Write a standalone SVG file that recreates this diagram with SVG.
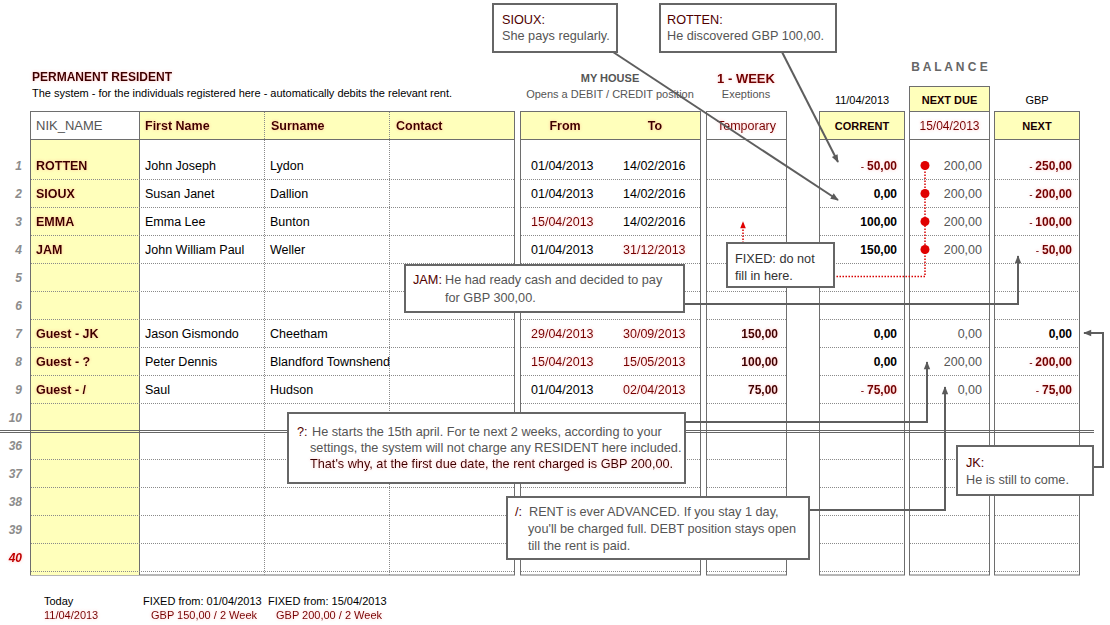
<svg xmlns="http://www.w3.org/2000/svg" width="1110" height="625" viewBox="0 0 1110 625">
<defs>
<filter id="glow" x="-20%" y="-60%" width="140%" height="220%">
<feGaussianBlur in="SourceAlpha" stdDeviation="1.6" result="b"/>
<feFlood flood-color="#ff5050" flood-opacity="0.35"/>
<feComposite in2="b" operator="in" result="g"/>
<feMerge><feMergeNode in="g"/><feMergeNode in="SourceGraphic"/></feMerge>
</filter>
<marker id="ah" viewBox="0 0 10 10" refX="9" refY="5" markerWidth="9" markerHeight="8" markerUnits="userSpaceOnUse" orient="auto"><path d="M0,1 L10,5 L0,9 z" fill="#5a5a5a"/></marker>
<marker id="ahr" viewBox="0 0 10 10" refX="9" refY="5" markerWidth="8" markerHeight="7" markerUnits="userSpaceOnUse" orient="auto"><path d="M0,1 L10,5 L0,9 z" fill="#e00000"/></marker>
<style>
text{font-family:"Liberation Sans",Arial,sans-serif}
.n{font-size:12.5px;fill:#000}
.nb{font-size:12.5px;font-weight:bold;fill:#3a0000;filter:url(#glow)}
.hb{font-size:12px;font-weight:bold;fill:#3a0000;filter:url(#glow)}
.hc{font-size:11px;font-weight:bold;fill:#1a0000;text-anchor:middle}
.rdd{font-size:12.5px;fill:#760000;filter:url(#glow)}
.v{font-size:12px;font-weight:bold;fill:#000;text-anchor:end}
.vm{font-size:12px;font-weight:bold;fill:#3a0000;text-anchor:end;filter:url(#glow)}
.vr{font-size:12px;font-weight:bold;fill:#700000;text-anchor:end;filter:url(#glow)}
.vg{font-size:12.5px;fill:#555;text-anchor:end}
.mi{font-size:10px;font-weight:normal}
.rn{font-size:12px;font-style:italic;font-weight:bold;fill:#8c8c8c;text-anchor:end}
.s{font-size:11px;fill:#000}
.sg{font-size:11px;fill:#555}
.sr{font-size:11px;fill:#760000;filter:url(#glow)}
.ct{font-size:12.7px;fill:#555}
.ck{font-size:12.7px;fill:#500000}
.panel{fill:#fff;stroke:#6e6e6e;stroke-width:1}
.sl{stroke:#6e6e6e;stroke-width:1;fill:none}
.dot{stroke:#8a8a8a;stroke-width:1;stroke-dasharray:1 1;fill:none}
.yl{fill:#ffffbb}
.box{fill:#fff;stroke:#666;stroke-width:2}
.con{fill:none;stroke:#5e5e5e;stroke-width:2}
.rdl{fill:none;stroke:#d80000;stroke-width:1.5;stroke-dasharray:1.5 1.5}
</style>
</defs>
<rect width="1110" height="625" fill="#fff"/>

<g id="titles">
<text x="32" y="81" class="hb">PERMANENT RESIDENT</text>
<text x="32" y="97" class="s" textLength="420">The system - for the individuals registered here - automatically debits the relevant rent.</text>
<text x="610" y="82" class="hc" style="fill:#555">MY HOUSE</text>
<text x="610" y="98" class="sg" text-anchor="middle">Opens a DEBIT / CREDIT position</text>
<text x="746" y="83" font-size="13" font-weight="bold" fill="#700000" text-anchor="middle" filter="url(#glow)">1 - WEEK</text>
<text x="746" y="98" class="sg" text-anchor="middle">Exeptions</text>
<text x="949.5" y="71" font-size="12" font-weight="bold" fill="#666" text-anchor="middle">B A L A N C E</text>
<text x="862" y="103.5" class="s" text-anchor="middle">11/04/2013</text>
<text x="1037" y="103.5" class="s" text-anchor="middle">GBP</text>
</g>

<g id="panel-residents">
<rect x="30.5" y="111.5" width="484" height="463.5" class="panel"/>
<rect x="139" y="112" width="375" height="27" class="yl"/>
<rect x="31" y="140" width="108" height="435" class="yl"/>
<path d="M30,139.5 H514 M139.5,111 V575" class="sl"/>
<path d="M264.5,112 V575 M389.5,112 V575" class="dot"/>
<path d="M31,179.5 H514 M31,207.5 H514 M31,235.5 H514 M31,263.5 H514 M31,291.5 H514 M31,319.5 H514 M31,347.5 H514 M31,375.5 H514 M31,403.5 H514 M31,459.5 H514 M31,487.5 H514 M31,515.5 H514 M31,543.5 H514 M31,571.5 H514" class="dot"/>
<text x="36" y="130" font-size="13" fill="#555">NIK_NAME</text>
<text x="145" y="130" class="hb" style="font-size:12.5px">First Name</text>
<text x="271" y="130" class="hb" style="font-size:12.5px">Surname</text>
<text x="396" y="130" class="hb" style="font-size:12.5px">Contact</text>
</g>

<g id="panel-dates">
<rect x="520.5" y="111.5" width="180" height="463.5" class="panel"/>
<rect x="521" y="112" width="179" height="27" class="yl"/>
<path d="M520,139.5 H700" class="sl"/>
<path d="M521,179.5 H700 M521,207.5 H700 M521,235.5 H700 M521,263.5 H700 M521,291.5 H700 M521,319.5 H700 M521,347.5 H700 M521,375.5 H700 M521,403.5 H700 M521,459.5 H700 M521,487.5 H700 M521,515.5 H700 M521,543.5 H700 M521,571.5 H700" class="dot"/>
<text x="565" y="130" class="hb" style="font-size:12.5px" text-anchor="middle">From</text>
<text x="655" y="130" class="hb" style="font-size:12.5px" text-anchor="middle">To</text>
</g>

<g id="panel-temporary">
<rect x="706.5" y="111.5" width="80" height="463.5" class="panel"/>
<path d="M706,139.5 H786" class="sl"/>
<path d="M707,179.5 H786 M707,207.5 H786 M707,235.5 H786 M707,263.5 H786 M707,291.5 H786 M707,319.5 H786 M707,347.5 H786 M707,375.5 H786 M707,403.5 H786 M707,459.5 H786 M707,487.5 H786 M707,515.5 H786 M707,543.5 H786 M707,571.5 H786" class="dot"/>
<text x="746.5" y="130" class="rdd" text-anchor="middle">Temporary</text>
</g>

<g id="panel-corrent">
<rect x="819.5" y="111.5" width="85" height="463.5" class="panel"/>
<rect x="820" y="112" width="84" height="27" class="yl"/>
<path d="M819,139.5 H904" class="sl"/>
<path d="M820,179.5 H904 M820,207.5 H904 M820,235.5 H904 M820,263.5 H904 M820,291.5 H904 M820,319.5 H904 M820,347.5 H904 M820,375.5 H904 M820,403.5 H904 M820,459.5 H904 M820,487.5 H904 M820,515.5 H904 M820,543.5 H904 M820,571.5 H904" class="dot"/>
<text x="862" y="130" class="hc">CORRENT</text>
</g>

<g id="panel-nextdue">
<rect x="909.5" y="86.5" width="80" height="488.5" class="panel"/>
<rect x="910" y="87" width="79" height="24" class="yl"/>
<path d="M909,111.5 H989 M909,139.5 H989" class="sl"/>
<path d="M910,179.5 H989 M910,207.5 H989 M910,235.5 H989 M910,263.5 H989 M910,291.5 H989 M910,319.5 H989 M910,347.5 H989 M910,375.5 H989 M910,403.5 H989 M910,459.5 H989 M910,487.5 H989 M910,515.5 H989 M910,543.5 H989 M910,571.5 H989" class="dot"/>
<text x="949.5" y="103.5" class="hc">NEXT DUE</text>
<text x="949.5" y="130" class="rdd" style="font-size:12px" text-anchor="middle">15/04/2013</text>
</g>

<g id="panel-next">
<rect x="994.5" y="111.5" width="85" height="463.5" class="panel"/>
<rect x="995" y="112" width="84" height="27" class="yl"/>
<path d="M994,139.5 H1079" class="sl"/>
<path d="M995,179.5 H1079 M995,207.5 H1079 M995,235.5 H1079 M995,263.5 H1079 M995,291.5 H1079 M995,319.5 H1079 M995,347.5 H1079 M995,375.5 H1079 M995,403.5 H1079 M995,459.5 H1079 M995,487.5 H1079 M995,515.5 H1079 M995,543.5 H1079 M995,571.5 H1079" class="dot"/>
<text x="1037" y="130" class="hc">NEXT</text>
</g>

<g id="row-numbers">
<text x="22" y="170" class="rn">1</text>
<text x="22" y="198" class="rn">2</text>
<text x="22" y="226" class="rn">3</text>
<text x="22" y="254" class="rn">4</text>
<text x="22" y="282" class="rn">5</text>
<text x="22" y="310" class="rn">6</text>
<text x="22" y="338" class="rn">7</text>
<text x="22" y="366" class="rn">8</text>
<text x="22" y="394" class="rn">9</text>
<text x="22" y="422" class="rn">10</text>
<text x="22" y="449.5" class="rn">36</text>
<text x="22" y="477.5" class="rn">37</text>
<text x="22" y="505.5" class="rn">38</text>
<text x="22" y="533.5" class="rn">39</text>
<text x="22" y="561.5" class="rn" style="fill:#c00000;filter:url(#glow)">40</text>
</g>

<g id="row-1">
<text x="36" y="170" class="nb">ROTTEN</text>
<text x="145" y="170" class="n">John Joseph</text>
<text x="270" y="170" class="n">Lydon</text>
<text x="531" y="170" class="n">01/04/2013</text>
<text x="623" y="170" class="n">14/02/2016</text>
<text x="897" y="170" class="vr"><tspan class="mi">- </tspan>50,00</text>
<text x="982" y="170" class="vg">200,00</text>
<text x="1072" y="170" class="vr"><tspan class="mi">- </tspan>250,00</text>
</g>
<g id="row-2">
<text x="36" y="198" class="nb">SIOUX</text>
<text x="145" y="198" class="n">Susan Janet</text>
<text x="270" y="198" class="n">Dallion</text>
<text x="531" y="198" class="n">01/04/2013</text>
<text x="623" y="198" class="n">14/02/2016</text>
<text x="897" y="198" class="v">0,00</text>
<text x="982" y="198" class="vg">200,00</text>
<text x="1072" y="198" class="vr"><tspan class="mi">- </tspan>200,00</text>
</g>
<g id="row-3">
<text x="36" y="226" class="nb">EMMA</text>
<text x="145" y="226" class="n">Emma Lee</text>
<text x="270" y="226" class="n">Bunton</text>
<text x="531" y="226" class="rdd">15/04/2013</text>
<text x="623" y="226" class="n">14/02/2016</text>
<text x="897" y="226" class="v">100,00</text>
<text x="982" y="226" class="vg">200,00</text>
<text x="1072" y="226" class="vr"><tspan class="mi">- </tspan>100,00</text>
</g>
<g id="row-4">
<text x="36" y="254" class="nb">JAM</text>
<text x="145" y="254" class="n">John William Paul</text>
<text x="270" y="254" class="n">Weller</text>
<text x="531" y="254" class="n">01/04/2013</text>
<text x="623" y="254" class="rdd">31/12/2013</text>
<text x="897" y="254" class="v">150,00</text>
<text x="982" y="254" class="vg">200,00</text>
<text x="1072" y="254" class="vr"><tspan class="mi">- </tspan>50,00</text>
</g>
<g id="row-7">
<text x="36" y="338" class="nb">Guest - JK</text>
<text x="145" y="338" class="n">Jason Gismondo</text>
<text x="270" y="338" class="n">Cheetham</text>
<text x="531" y="338" class="rdd">29/04/2013</text>
<text x="623" y="338" class="rdd">30/09/2013</text>
<text x="778" y="338" class="vm">150,00</text>
<text x="897" y="338" class="v">0,00</text>
<text x="982" y="338" class="vg">0,00</text>
<text x="1072" y="338" class="v">0,00</text>
</g>
<g id="row-8">
<text x="36" y="366" class="nb">Guest - ?</text>
<text x="145" y="366" class="n">Peter Dennis</text>
<text x="270" y="366" class="n">Blandford Townshend</text>
<text x="531" y="366" class="rdd">15/04/2013</text>
<text x="623" y="366" class="rdd">15/05/2013</text>
<text x="778" y="366" class="vm">100,00</text>
<text x="897" y="366" class="v">0,00</text>
<text x="982" y="366" class="vg">200,00</text>
<text x="1072" y="366" class="vr"><tspan class="mi">- </tspan>200,00</text>
</g>
<g id="row-9">
<text x="36" y="394" class="nb">Guest - /</text>
<text x="145" y="394" class="n">Saul</text>
<text x="270" y="394" class="n">Hudson</text>
<text x="531" y="394" class="n">01/04/2013</text>
<text x="623" y="394" class="rdd">02/04/2013</text>
<text x="778" y="394" class="vm">75,00</text>
<text x="897" y="394" class="vr"><tspan class="mi">- </tspan>75,00</text>
<text x="982" y="394" class="vg">0,00</text>
<text x="1072" y="394" class="vr"><tspan class="mi">- </tspan>75,00</text>
</g>

<g id="break-line">
<path d="M0,430.5 H1094 M0,432.5 H1094" stroke="#666" stroke-width="1" fill="none"/>
</g>

<g id="fixed-marker">
<path d="M925,165.5 V276.5 H834" class="rdl"/>
<path d="M743,243 V222" class="rdl" marker-end="url(#ahr)"/>
<circle cx="925" cy="165.5" r="4.5" fill="#e00000"/>
<circle cx="925" cy="193.5" r="4.5" fill="#e00000"/>
<circle cx="925" cy="221.5" r="4.5" fill="#e00000"/>
<circle cx="925" cy="249.5" r="4.5" fill="#e00000"/>
</g>

<g id="connectors">
<path d="M613,52 L838,200" class="con" marker-end="url(#ah)"/>
<path d="M782,52 L838,162" class="con" marker-end="url(#ah)"/>
<path d="M684,304 H1018 V256" class="con" marker-end="url(#ah)"/>
<path d="M685,422 H927 V362" class="con" marker-end="url(#ah)"/>
<path d="M809,510 H945 V387" class="con" marker-end="url(#ah)"/>
<path d="M1093,467 H1103 V333 H1084" class="con" marker-end="url(#ah)"/>
</g>

<g id="note-sioux">
<rect x="493" y="4" width="124" height="48" class="box"/>
<text x="502" y="23.5" class="ck">SIOUX:</text>
<text x="502" y="40" class="ct">She pays regularly.</text>
</g>
<g id="note-rotten">
<rect x="660" y="4" width="176" height="48" class="box"/>
<text x="667" y="23.5" class="ck">ROTTEN:</text>
<text x="667" y="40" class="ct">He discovered GBP 100,00.</text>
</g>
<g id="note-jam">
<rect x="405" y="265" width="279" height="47" class="box"/>
<text x="413" y="284" class="ck">JAM:</text>
<text x="445" y="284" class="ct">He had ready cash and decided to pay</text>
<text x="445" y="302" class="ct">for GBP 300,00.</text>
</g>
<g id="note-fixed">
<rect x="727" y="243" width="107" height="44" class="box"/>
<text x="735" y="262.5" class="ct" style="fill:#333">FIXED: do not</text>
<text x="735" y="279.5" class="ct" style="fill:#333">fill in here.</text>
</g>
<g id="note-question">
<rect x="288" y="413" width="397" height="70" class="box"/>
<text x="297" y="436" class="ck">?:</text>
<text x="312" y="436" class="ct">He starts the 15th april. For te next 2 weeks, according to your</text>
<text x="310" y="452" class="ct">settings, the system will not charge any RESIDENT here included.</text>
<text x="310" y="468" class="ck" style="fill:#3a0000;filter:url(#glow)">That's why, at the first due date, the rent charged is GBP 200,00.</text>
</g>
<g id="note-slash">
<rect x="507" y="497" width="302" height="62" class="box"/>
<text x="515" y="516" class="ck">/:</text>
<text x="529" y="516" class="ct">RENT is ever ADVANCED. If you stay 1 day,</text>
<text x="528" y="533" class="ct">you'll be charged full. DEBT position stays open</text>
<text x="528" y="550" class="ct">till the rent is paid.</text>
</g>
<g id="note-jk">
<rect x="957" y="446" width="136" height="49" class="box"/>
<text x="966" y="467" class="ck">JK:</text>
<text x="966" y="484" class="ct">He is still to come.</text>
</g>

<g id="footer">
<text x="44" y="605" class="s">Today</text>
<text x="44" y="619" class="sr">11/04/2013</text>
<text x="143" y="605" class="s">FIXED from: 01/04/2013</text>
<text x="151" y="619" class="sr">GBP 150,00 / 2 Week</text>
<text x="268" y="605" class="s">FIXED from: 15/04/2013</text>
<text x="276" y="619" class="sr">GBP 200,00 / 2 Week</text>
</g>
</svg>
